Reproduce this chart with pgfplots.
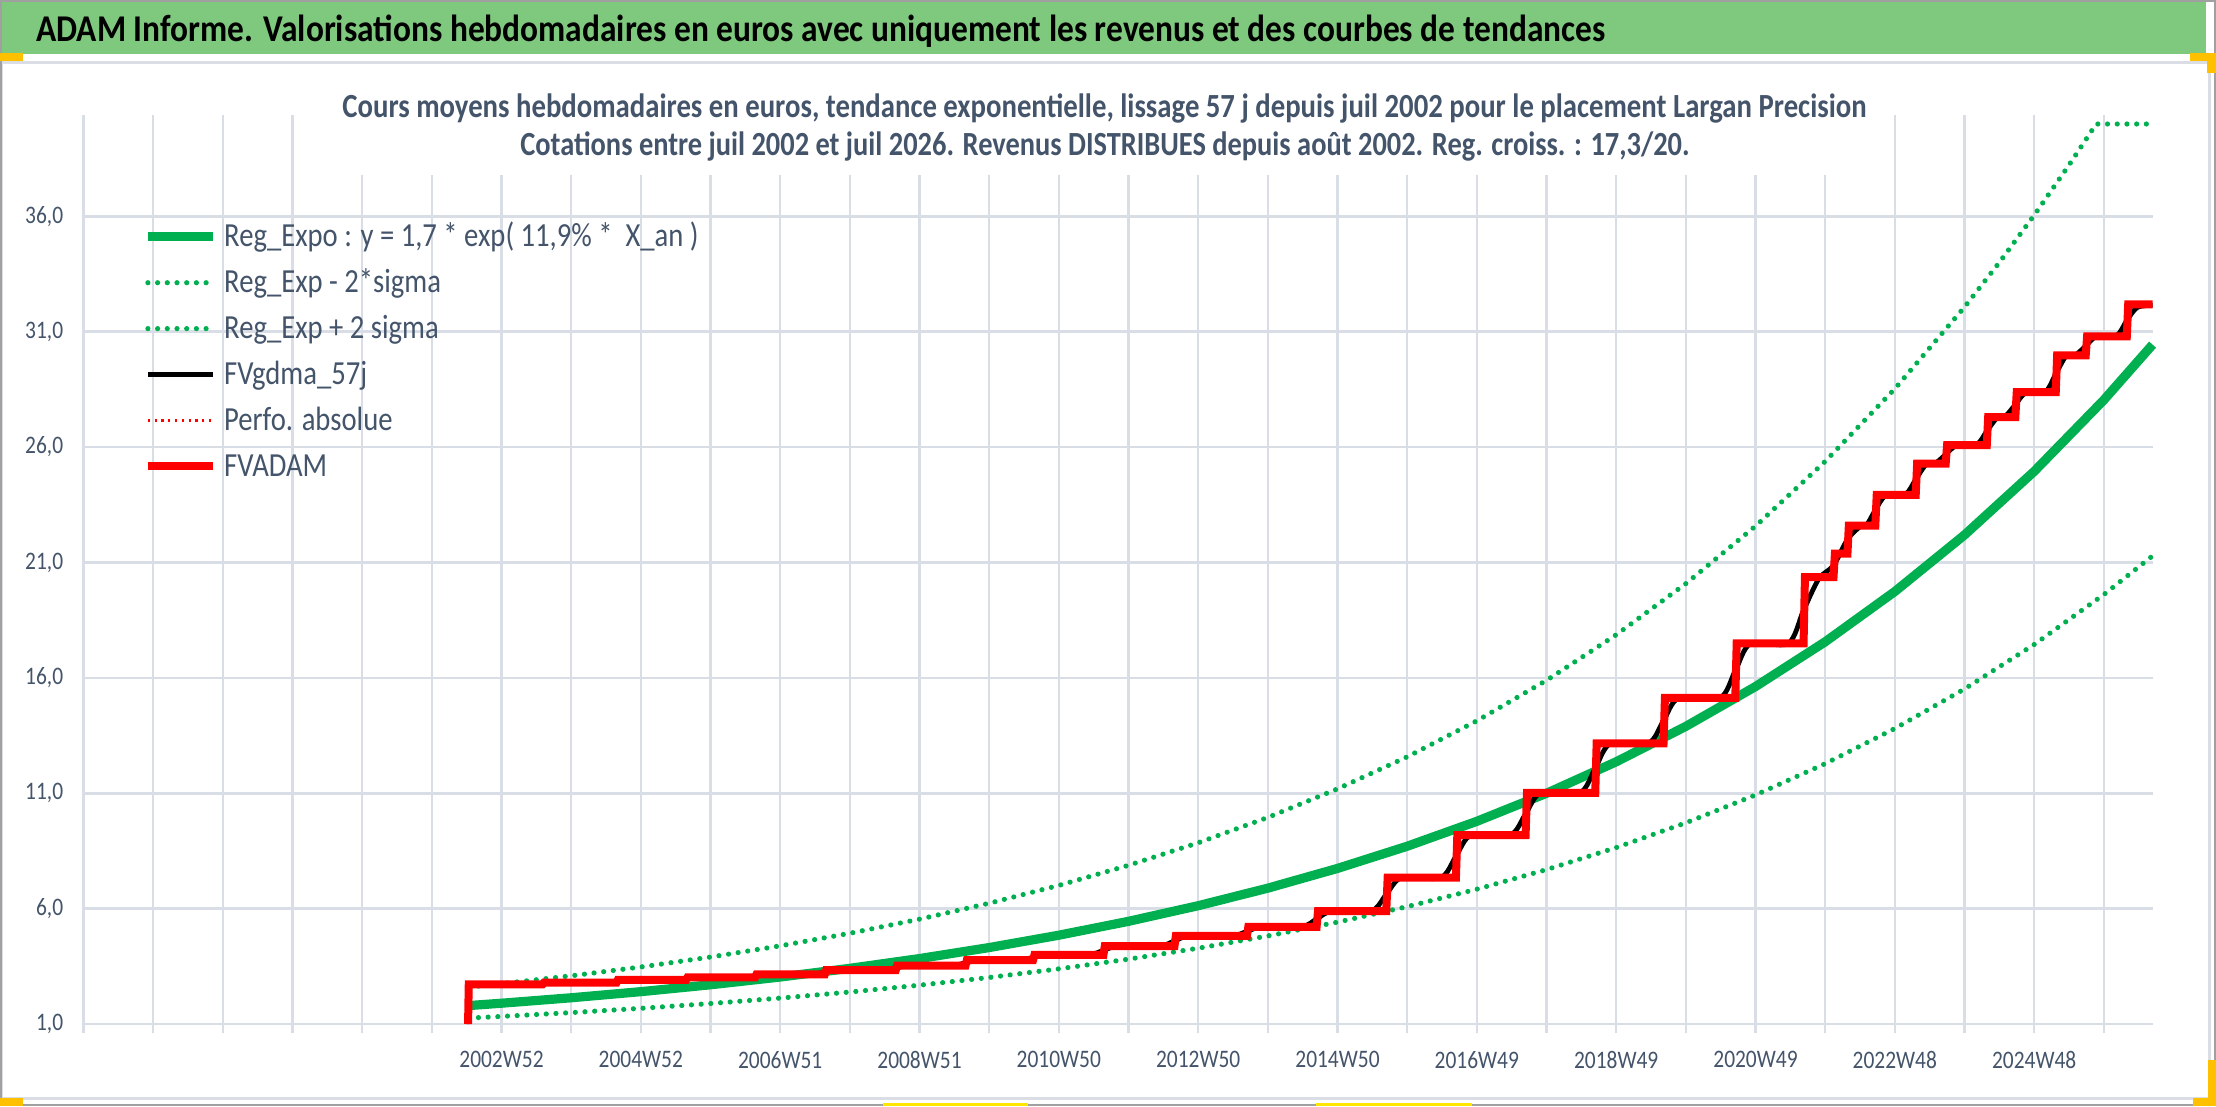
\documentclass[border=0pt]{standalone}
\usepackage{fontspec}
\setmainfont{Carlito}[FakeStretch=0.85]
\usepackage{graphicx}
\usepackage{pgfplots}
\pgfplotsset{compat=1.18}

\definecolor{bargreen}{RGB}{127,201,127}
\definecolor{linegreen}{RGB}{0,176,80}
\definecolor{gridc}{RGB}{217,222,230}
\definecolor{slate}{RGB}{68,84,106}
\definecolor{orng}{RGB}{255,192,0}
\definecolor{yell}{RGB}{255,230,0}
\definecolor{framegray}{RGB}{160,160,160}
\definecolor{lightframe}{RGB}{218,221,227}

\newcommand{\tickfont}{\fontsize{12.6bp}{14bp}\selectfont}
\newcommand{\legfont}{\fontsize{16.85bp}{20bp}\selectfont}
\newcommand{\titlefont}{\fontsize{18.9bp}{22bp}\selectfont\bfseries}
\newcommand{\subfont}{\fontsize{16.9bp}{20bp}\selectfont\bfseries}

\begin{document}
\begin{tikzpicture}
\begin{scope}[x=0.5bp,y=-0.5bp,shift={(-41.75bp,512bp)}]
  \path[use as bounding box] (0,0) rectangle (2216,1106);
  \fill[white] (0,0) rectangle (2216,1106);
  \fill[bargreen] (2,2) rectangle (2206,54.3);
  \draw[lightframe,line width=1.5bp] (2,62.5) rectangle (2209,1098);
  \draw[framegray,line width=1bp] (1,1) rectangle (2215,1105);
  \fill[orng] (0,53) rectangle (23,61);
  \fill[orng] (2190,53) rectangle (2216,61);
  \fill[orng] (2207,53) rectangle (2216,73);
  \fill[orng] (2208,1060) rectangle (2216,1106);
  \fill[orng] (2193,1098) rectangle (2216,1106);
  \fill[orng] (0,1098) rectangle (23,1106);
  \fill[yell] (883,1103) rectangle (1028,1106);
  \fill[yell] (1316,1103) rectangle (1472,1106);
  \node[anchor=base west,inner sep=0pt] at (36,41.7)
    {\resizebox{784.5bp}{\height}{\titlefont ADAM Informe. Valorisations hebdomadaires en euros avec uniquement les revenus et des courbes de tendances}};
\end{scope}

\begin{axis}[
  at={(0,0)}, anchor=south west,
  scale only axis, width=1034.5bp, height=450bp,
  xmin=0, xmax=29.7, ymin=1, ymax=40,
  xtick={0,1,...,29},
  xticklabels={,,,,,,2002W52,,2004W52,,2006W51,,2008W51,,2010W50,,2012W50,,2014W50,,2016W49,,2018W49,,2020W49,,2022W48,,2024W48,},
  ytick={1,6,11,16,21,26,31,36},
  yticklabels={{1,0},{6,0},{11,0},{16,0},{21,0},{26,0},{31,0},{36,0}},
  grid=major,
  major grid style={gridc,line width=1.25bp},
  axis line style={draw=none},
  tick align=outside,
  major tick length=4.5bp,
  xtick style={gridc,line width=1.2bp},
  ytick style={draw=none},
  tick label style={font=\tickfont,text=slate,inner sep=0pt},
  xticklabel style={anchor=north,yshift=-9bp},
  yticklabel style={anchor=east,xshift=-5.5bp},
  clip=false,
  legend style={at={(axis description cs:0.0289,0.888)},anchor=north west,
    draw=none,fill=none,inner sep=0pt,outer sep=0pt,
    font=\legfont,text=slate,row sep=10.95bp,column sep=3.35bp,
    nodes={inner sep=0pt,text height=11bp,text depth=1bp}},
  legend cell align=left,
  legend image code/.code={\draw[#1] (0bp,0bp) -- (32.5bp,0bp);},
]
% Reg_Expo
\addplot[draw=linegreen,line width=4.6bp] coordinates {
(5.53,1.800)(6,1.902)(7,2.138)(8,2.403)(9,2.701)(10,3.037)(11,3.414)(12,3.837)
(13,4.314)(14,4.849)(15,5.451)(16,6.127)(17,6.888)(18,7.743)(19,8.704)(20,9.784)
(21,10.998)(22,12.363)(23,13.898)(24,15.623)(25,17.562)(26,19.741)(27,22.192)
(28,24.946)(29,28.042)(29.7,30.44)};
\addlegendentry{Reg\_Expo : y = 1,7 * exp( 11,9\% *~ X\_an )}
% Reg_Exp - 2 sigma
\addplot[draw=linegreen,line width=2.6bp,line cap=round,dash pattern=on 0bp off 4.85bp] coordinates {
(5.53,1.259)(6,1.330)(7,1.495)(8,1.680)(9,1.889)(10,2.124)(11,2.387)(12,2.683)
(13,3.017)(14,3.391)(15,3.812)(16,4.285)(17,4.817)(18,5.415)(19,6.087)(20,6.842)
(21,7.691)(22,8.646)(23,9.719)(24,10.925)(25,12.281)(26,13.805)(27,15.519)
(28,17.445)(29,19.610)(29.7,21.287)};
\addlegendentry{Reg\_Exp - 2*sigma}
% Reg_Exp + 2 sigma
\addplot[draw=linegreen,line width=2.6bp,line cap=round,dash pattern=on 0bp off 4.85bp] coordinates {
(5.53,2.600)(6,2.748)(7,3.089)(8,3.472)(9,3.903)(10,4.388)(11,4.933)(12,5.544)
(13,6.234)(14,7.007)(15,7.877)(16,8.854)(17,9.953)(18,11.189)(19,12.577)(20,14.138)
(21,15.892)(22,17.865)(23,20.083)(24,22.575)(25,25.377)(26,28.526)(27,32.067)
(27.5,34.00)(28,36.047)(28.5,38.22)(28.89,40)(29.7,40)};
\addlegendentry{Reg\_Exp + 2 sigma}
% FVgdma_57j
\addplot[draw=black,line width=2.4bp,smooth,tension=0.5] coordinates {
(5.53,2.72)
(6.37,2.72)(6.59,2.755)(6.81,2.79)
(7.43,2.79)(7.65,2.85)(7.87,2.91)
(8.43,2.91)(8.65,2.965)(8.87,3.02)
(9.42,3.02)(9.64,3.085)(9.86,3.15)
(10.42,3.15)(10.64,3.245)(10.86,3.34)
(11.44,3.34)(11.66,3.435)(11.88,3.53)
(12.44,3.53)(12.66,3.65)(12.88,3.77)
(13.41,3.77)(13.63,3.885)(13.85,4.00)
(14.42,4.00)(14.64,4.19)(14.86,4.38)
(15.44,4.38)(15.66,4.60)(15.88,4.82)
(16.48,4.82)(16.70,5.015)(16.92,5.21)
(17.48,5.21)(17.70,5.55)(17.92,5.89)
(18.48,5.89)(18.70,6.615)(18.92,7.34)
(19.48,7.34)(19.70,8.265)(19.92,9.19)
(20.48,9.19)(20.70,10.105)(20.92,11.02)
(21.48,11.02)(21.70,12.09)(21.92,13.16)
(22.46,13.16)(22.68,14.145)(22.90,15.13)
(23.49,15.13)(23.71,16.31)(23.93,17.49)
(24.47,17.49)(24.69,18.93)(24.91,20.30)
(25.12,20.87)
(25.32,22.0)(25.50,22.55)
(25.60,22.65)(25.72,23.27)(25.87,23.9)
(26.15,23.95)(26.30,24.6)(26.45,25.25)
(26.58,25.3)(26.73,25.68)(26.88,26.05)
(27.17,26.1)(27.32,26.69)(27.47,27.28)
(27.58,27.32)(27.73,27.84)(27.88,28.35)
(28.16,28.4)(28.31,29.17)(28.46,29.95)
(28.59,29.99)(28.74,30.38)(28.89,30.78)
(29.18,30.82)(29.33,31.49)(29.48,32.05)(29.70,32.15)};
\addlegendentry{FVgdma\_57j}
% Perfo. absolue
\addplot[draw=red,line width=1.1bp,dash pattern=on 1.1bp off 2.3bp] coordinates {
(5.52,1.00)(5.53,2.72)
(6.59,2.72)(6.61,2.79)(7.65,2.79)(7.67,2.91)(8.65,2.91)(8.67,3.02)
(9.64,3.02)(9.66,3.15)(10.64,3.15)(10.66,3.34)(11.66,3.34)(11.68,3.53)
(12.66,3.53)(12.68,3.77)(13.63,3.77)(13.65,4.00)(14.64,4.00)(14.66,4.38)
(15.66,4.38)(15.68,4.82)(16.70,4.82)(16.72,5.21)(17.70,5.21)(17.72,5.89)
(18.70,5.89)(18.72,7.34)(19.70,7.34)(19.72,9.19)(20.70,9.19)(20.72,11.02)
(21.70,11.02)(21.72,13.16)(22.68,13.16)(22.70,15.13)(23.71,15.13)(23.73,17.49)
(24.69,17.49)(24.71,20.37)(25.12,20.37)(25.14,21.38)(25.32,21.38)(25.34,22.60)
(25.72,22.60)(25.74,23.93)(26.30,23.93)(26.32,25.28)(26.73,25.28)(26.75,26.08)
(27.32,26.08)(27.34,27.30)(27.73,27.30)(27.75,28.38)(28.31,28.38)(28.33,29.97)
(28.74,29.97)(28.76,30.80)(29.33,30.80)(29.35,32.18)(29.70,32.18)};
\addlegendentry{Perfo. absolue}
% FVADAM
\addplot[draw=red,line width=4bp,line join=miter] coordinates {
(5.52,1.00)(5.53,2.72)
(6.59,2.72)(6.61,2.79)(7.65,2.79)(7.67,2.91)(8.65,2.91)(8.67,3.02)
(9.64,3.02)(9.66,3.15)(10.64,3.15)(10.66,3.34)(11.66,3.34)(11.68,3.53)
(12.66,3.53)(12.68,3.77)(13.63,3.77)(13.65,4.00)(14.64,4.00)(14.66,4.38)
(15.66,4.38)(15.68,4.82)(16.70,4.82)(16.72,5.21)(17.70,5.21)(17.72,5.89)
(18.70,5.89)(18.72,7.34)(19.70,7.34)(19.72,9.19)(20.70,9.19)(20.72,11.02)
(21.70,11.02)(21.72,13.16)(22.68,13.16)(22.70,15.13)(23.71,15.13)(23.73,17.49)
(24.69,17.49)(24.71,20.37)(25.12,20.37)(25.14,21.38)(25.32,21.38)(25.34,22.60)
(25.72,22.60)(25.74,23.93)(26.30,23.93)(26.32,25.28)(26.73,25.28)(26.75,26.08)
(27.32,26.08)(27.34,27.30)(27.73,27.30)(27.75,28.38)(28.31,28.38)(28.33,29.97)
(28.74,29.97)(28.76,30.80)(29.33,30.80)(29.35,32.18)(29.70,32.18)};
\addlegendentry{FVADAM}
\end{axis}

\begin{scope}[x=0.5bp,y=-0.5bp,shift={(-41.75bp,512bp)}]
  \fill[white] (330,70) rectangle (1880,175);
  \node[anchor=base west,inner sep=0pt,text=slate] at (342,117.3)
    {\resizebox{762bp}{\height}{\subfont Cours moyens hebdomadaires en euros, tendance exponentielle, lissage 57 j depuis juil 2002 pour le placement Largan Precision}};
  \node[anchor=base west,inner sep=0pt,text=slate] at (520,155.7)
    {\resizebox{584.5bp}{\height}{\subfont Cotations entre juil 2002 et juil 2026. Revenus DISTRIBUES depuis août 2002. Reg. croiss. : 17,3/20.}};
\end{scope}
\end{tikzpicture}
\end{document}
